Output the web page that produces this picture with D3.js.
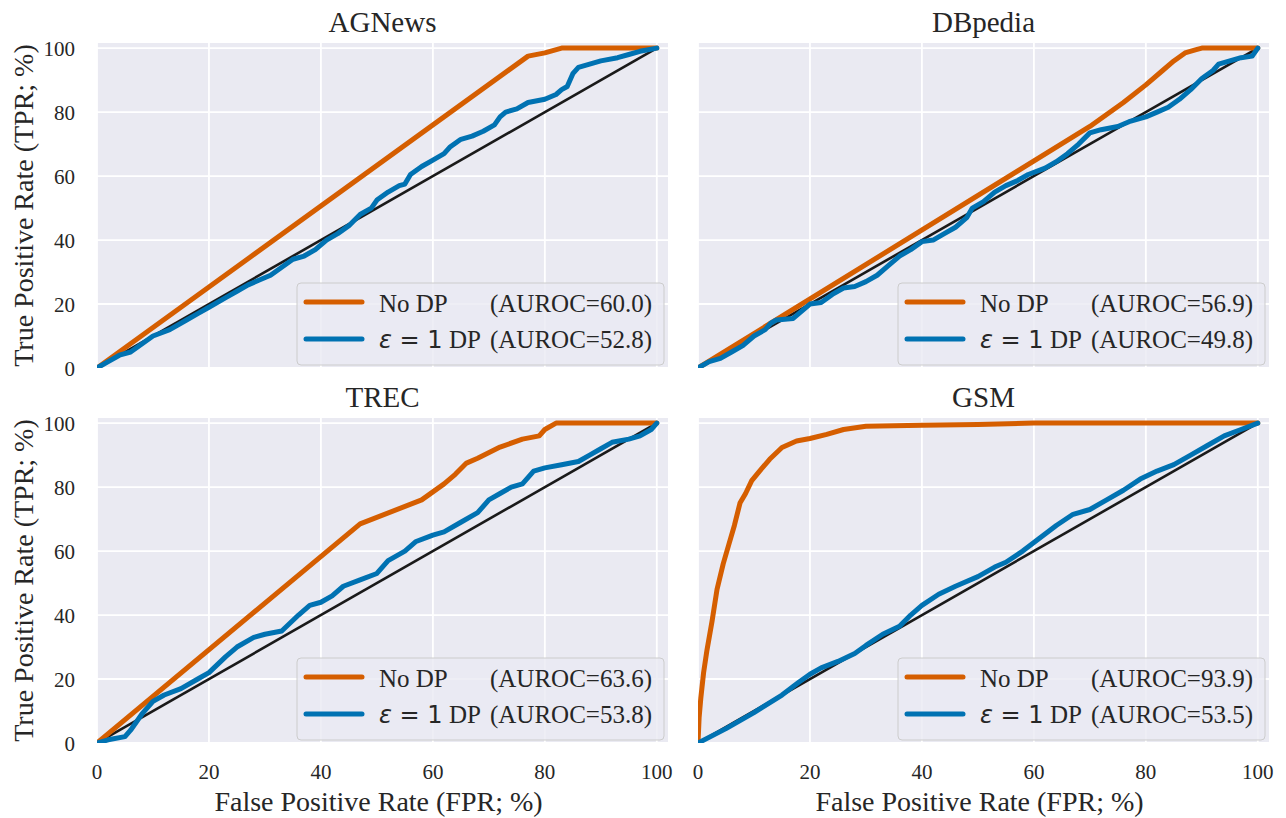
<!DOCTYPE html>
<html>
<head>
<meta charset="utf-8">
<script src="https://cdn.jsdelivr.net/npm/d3@7"></script>
<style>
  body { margin: 0; background: #fff; }
  text { font-family: "Liberation Serif", "Times New Roman", serif; fill: #262626; }
</style>
</head>
<body>
<div id="chart"></div>
<script>
// ROC points: [FPR %, TPR %]
var agnewsNoDp = [[0,0],[77,97.5],[80,98.5],[83,100],[100,100]];
var agnewsDp = [[0,0],[2,2],[4,4],[6,5],[8,7.5],[10,10],[13,12],[16,15],[18,17],[20,19],[23,22],[25,24],
  [27,26],[29,27.5],[31,29],[33,31.5],[35,34],[37,35],[39,37],[41,40],[43,42],[45,44.5],[47,48],[49,50],
  [50,52.5],[52,55],[54,57],[55,57.5],[56,60.5],[58,63],[60,65],[62,67],[63,69],[65,71.5],[67,72.5],
  [69,74],[71,76],[72,78.5],[73,80],[75,81],[77,83],[80,84],[82,85.5],[83,87],[84,88],[85,92],[86,94],
  [88,95],[90,96],[93,97],[95,98],[97,99],[100,100]];

var dbpediaNoDp = [[0,0],[70,75.5],[76,83],[80,88.5],[83,93],[85,96],[87,98.5],[89,99.5],[90,100],[100,100]];
var dbpediaDp = [[0,0],[2,2],[4,3],[6,5],[8,7],[10,10],[12,12],[13,14],[14,15],[17,15.5],[18,17],[20,20],
  [22,20.5],[24,23],[26,25],[28,25.5],[30,27],[32,29],[34,32],[36,35],[38,37],[40,39.5],[42,40],[44,42],
  [46,44],[48,47],[49,50],[51,52],[53,55],[55,57],[57,58.5],[59,60.5],[62,62.5],[64,64.5],[66,67],[68,70],
  [70,73.5],[72,74.5],[75,75.5],[77,77],[80,78.5],[82,80],[84,81.5],[86,84],[88,87],[90,90.5],[92,93],
  [93,95],[95,96],[97,97],[99,97.5],[100,100]];

var trecNoDp = [[0,0],[47,68.5],[58,76],[62,81],[64,84],[66,87.5],[68,89],[72,92.5],[76,95],[79,96],
  [80,98],[82,100],[100,100]];
var trecDp = [[0,0],[2,1],[5,2],[6,4],[8,9],[10,13],[12,15],[15,17],[18,20],[20,22],[23,27],[25,30],
  [28,33],[30,34],[33,35],[36,40],[38,43],[40,44],[42,46],[44,49],[47,51],[50,53],[52,57],[55,60],
  [57,63],[60,65],[62,66],[65,69],[68,72],[70,76],[72,78],[74,80],[76,81],[78,85],[80,86],[83,87],
  [86,88],[88,90],[90,92],[92,94],[95,95],[97,96],[99,98],[100,100]];

var gsmNoDp = [[0,0],[0.2,8],[0.5,14],[1,22],[1.6,29],[2.5,38],[3.4,48],[4.5,56],[5.5,62],[6.5,68],
  [7.5,75],[8.5,78],[9.6,82],[11,85],[12.8,88.7],[15,92.4],[17.6,94.4],[20,95.2],[23,96.5],[26,98],
  [30,99],[40,99.3],[50,99.6],[60,100],[100,100]];
var gsmDp = [[0,0],[5,4.5],[10,9.5],[15,15],[18,19],[20,21.5],[22,23.5],[25,25.5],[28,28],[30,30.5],
  [33,34],[36,36.5],[38,40],[40,43],[43,46.5],[46,49],[50,52],[53,55],[55,56.5],[58,60],[61,64],[64,68],
  [67,71.5],[70,73],[73,76],[76,79],[79,82.5],[82,85],[85,87],[88,90],[91,93],[94,96],[97,98],[100,100]];

var titles = ["AGNews", "DBpedia", "TREC", "GSM"];
var noDpAuroc = ["60.0", "56.9", "63.6", "93.9"];
var dpAuroc = ["52.8", "49.8", "53.8", "53.5"];
var ticks = [0, 20, 40, 60, 80, 100];

var panels = [
  {title: titles[0], noDp: agnewsNoDp, dp: agnewsDp, a1: noDpAuroc[0], a2: dpAuroc[0], col: 0, row: 0},
  {title: titles[1], noDp: dbpediaNoDp, dp: dbpediaDp, a1: noDpAuroc[1], a2: dpAuroc[1], col: 1, row: 0},
  {title: titles[2], noDp: trecNoDp, dp: trecDp, a1: noDpAuroc[2], a2: dpAuroc[2], col: 0, row: 1},
  {title: titles[3], noDp: gsmNoDp, dp: gsmDp, a1: noDpAuroc[3], a2: dpAuroc[3], col: 1, row: 1}
];

var totalWidth = 1286, totalHeight = 818,
    width = 571, height = 325,
    colX = [97, 698], rowY = [43, 418];

var svg = d3.select("#chart").append("svg")
    .attr("width", totalWidth)
    .attr("height", totalHeight);

var x = d3.scaleLinear().domain([0, 102]).range([0, width]);
var y = d3.scaleLinear().domain([0, 101.6]).range([height, 0]);
var line = d3.line().x(function(d) { return x(d[0]); }).y(function(d) { return y(d[1]); });

panels.forEach(function(p, i) {
    var g = svg.append("g")
        .attr("transform", "translate(" + colX[p.col] + "," + rowY[p.row] + ")");

    g.append("clipPath").attr("id", "clip" + i)
      .append("rect").attr("width", width).attr("height", height);

    g.append("rect").attr("width", width).attr("height", height).style("fill", "#eaeaf2");

    // grid
    g.append("g").selectAll("line").data(ticks).enter().append("line")
        .attr("x1", function(d) { return x(d); }).attr("x2", function(d) { return x(d); })
        .attr("y1", 0).attr("y2", height)
        .style("stroke", "#fff").style("stroke-width", 1.8);
    g.append("g").selectAll("line").data(ticks).enter().append("line")
        .attr("y1", function(d) { return y(d); }).attr("y2", function(d) { return y(d); })
        .attr("x1", 0).attr("x2", width)
        .style("stroke", "#fff").style("stroke-width", 1.8);

    var plot = g.append("g").attr("clip-path", "url(#clip" + i + ")");
    plot.append("path").datum([[0, 0], [100, 100]]).attr("d", line)
        .style("fill", "none").style("stroke", "#1a1a1a").style("stroke-width", 2.6);
    plot.append("path").datum(p.noDp).attr("d", line)
        .style("fill", "none").style("stroke", "#d55e00").style("stroke-width", 5)
        .style("stroke-linejoin", "round").style("stroke-linecap", "round");
    plot.append("path").datum(p.dp).attr("d", line)
        .style("fill", "none").style("stroke", "#0072b2").style("stroke-width", 5)
        .style("stroke-linejoin", "round").style("stroke-linecap", "round");

    // title
    g.append("text").attr("x", width / 2).attr("y", -11)
        .attr("text-anchor", "middle").style("font-size", "29px").text(p.title);

    // tick labels
    if (p.col === 0) {
        g.append("g").selectAll("text").data(ticks).enter().append("text")
            .attr("x", -22).attr("y", function(d) { return y(d) + 7.5; })
            .attr("text-anchor", "end").style("font-size", "21px")
            .text(function(d) { return d; });
        g.append("text")
            .attr("transform", "translate(" + (-64) + "," + (height / 2) + ") rotate(-90)")
            .attr("text-anchor", "middle").style("font-size", "28px")
            .text("True Positive Rate (TPR; %)");
    }
    if (p.row === 1) {
        g.append("g").selectAll("text").data(ticks).enter().append("text")
            .attr("x", function(d) { return x(d); }).attr("y", height + 36)
            .attr("text-anchor", "middle").style("font-size", "21px")
            .text(function(d) { return d; });
        g.append("text").attr("x", width / 2 - 4).attr("y", height + 68)
            .attr("text-anchor", "middle").style("font-size", "28px")
            .text("False Positive Rate (FPR; %)");
    }

    // legend
    var lw = 367, lh = 82;
    var lg = g.append("g").attr("transform", "translate(" + (width - lw - 4) + "," + (height - lh - 3) + ")");
    lg.append("rect").attr("width", lw).attr("height", lh).attr("rx", 4)
        .style("fill", "#eaeaf2").style("fill-opacity", 0.8)
        .style("stroke", "#cccccc").style("stroke-width", 1);
    [["#d55e00", 19], ["#0072b2", 56]].forEach(function(e) {
        lg.append("line").attr("x1", 9).attr("x2", 65).attr("y1", e[1]).attr("y2", e[1])
            .style("stroke", e[0]).style("stroke-width", 5).style("stroke-linecap", "round");
    });
    lg.append("text").attr("x", 82).attr("y", 28.5).style("font-size", "25px").text("No DP");
    lg.append("text").attr("x", lw - 12).attr("y", 28.5).attr("text-anchor", "end")
        .style("font-size", "25px").text("(AUROC=" + p.a1 + ")");
    var t2 = lg.append("text").attr("x", 82).attr("y", 65).style("font-size", "25px");
    t2.append("tspan").style("font-family", "'DejaVu Sans', sans-serif").style("font-size", "24px")
        .style("font-style", "italic").text("ε");
    t2.append("tspan").style("font-family", "'DejaVu Sans', sans-serif").style("font-size", "24px").text(" = 1");
    t2.append("tspan").text(" DP");
    lg.append("text").attr("x", lw - 12).attr("y", 65).attr("text-anchor", "end")
        .style("font-size", "25px").text("(AUROC=" + p.a2 + ")");
});
</script>
</body>
</html>
